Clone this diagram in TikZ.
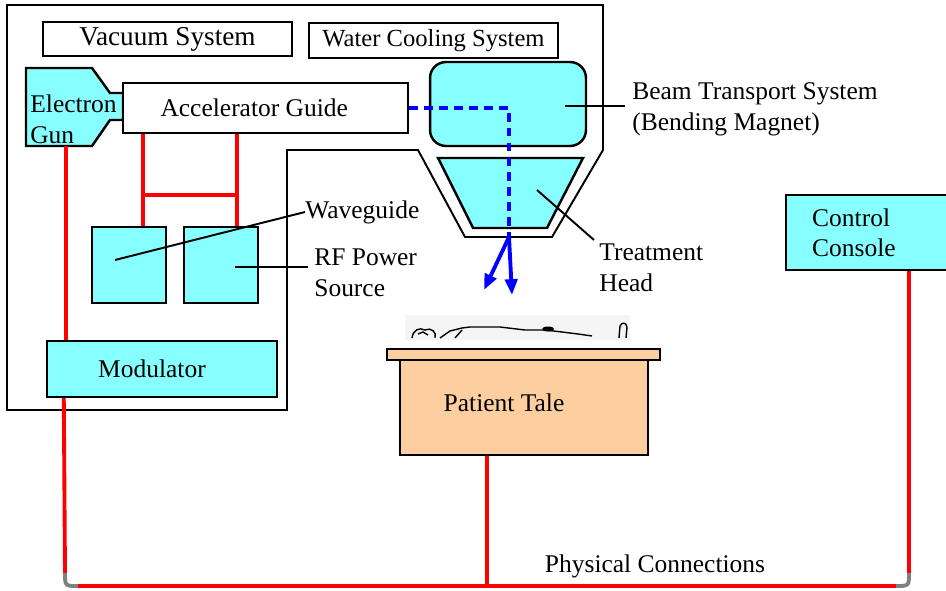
\documentclass[tikz,border=0pt]{standalone}
\usepackage{fontspec}
\setmainfont{Liberation Serif}
\usetikzlibrary{calc,arrows.meta}
\definecolor{aqua}{HTML}{88FFFF}
\definecolor{peach}{HTML}{FDCFA0}

\begin{document}
\begin{tikzpicture}[
    x=0.02cm, y=-0.02cm,
    font=\fontsize{14.5}{17.5}\selectfont,
    box/.style={rectangle, draw, line width=1.4pt, inner sep=0pt},
    unit/.style={box, fill=aqua},
    tag/.style={align=left, anchor=west, inner sep=0pt},
    housing/.style={line width=1.1pt},
    wire/.style={red, line width=2.2pt},
    beam/.style={blue, line width=2.2pt, dash pattern=on 5pt off 3.5pt},
    ray/.style={blue, line width=2.2pt, -{Triangle[length=9pt,width=7pt]}},
    leader/.style={line width=1.1pt}
]
\useasboundingbox (0,0) rectangle (946,591);

% Machine housing
\draw[housing] (7,5) -- (603,5) -- (603,150) -- (552,237) -- (465,237)
    -- (418,150) -- (287,150) -- (287,410) -- (7,410) -- cycle;

% System labels
\node[box, minimum width=4.98cm, minimum height=0.68cm,
    font=\fontsize{15.5}{18}\selectfont] (vac) at (167.5,39) {Vacuum System};
\node[box, minimum width=4.98cm, minimum height=0.70cm,
    font=\fontsize{14}{17}\selectfont] (water) at (433.5,40.5) {Water Cooling System};

% Electron gun and accelerator guide
\draw[unit] (26,68) -- (92,68) -- (110,93) -- (123,93) -- (123,120)
    -- (110,120) -- (92,146) -- (26,146) -- cycle;
\node[tag] (gun) at (30,119) {Electron\\Gun};
\coordinate (gun-s) at (66,146);
\node[box, fill=white, minimum width=5.70cm, minimum height=1.00cm] (accel) at (265.5,108) {Accelerator Guide\hspace*{0.45cm}};

% Beam transport and treatment head
\node[unit, rounded corners=0.32cm, minimum width=3.12cm, minimum height=1.68cm] (bend) at (508,104) {};
\draw[unit] (438,158) -- (583,158) -- (547,228) -- (473,228) -- cycle;
\coordinate (turn) at (509,108);
\coordinate (exit) at (509,237);
\coordinate (ray1) at (484,290);
\coordinate (ray2) at (512,295);
\draw[beam] (accel.east) -- (turn) -- (exit);
\draw[ray] (exit) -- (ray1);
\draw[ray] (exit) -- (ray2);

% Waveguide, RF power source, modulator
\node[unit, minimum width=1.48cm, minimum height=1.52cm] (wg) at (129,265) {};
\node[unit, minimum width=1.48cm, minimum height=1.52cm] (rf) at (221,265) {};
\node[unit, minimum width=4.60cm, minimum height=1.12cm] (mod) at (162,369) {Modulator\hspace*{0.4cm}};

\coordinate (wg-n) at ($(wg.north)+(14,0)$);
\coordinate (rf-n) at ($(rf.north)+(16,0)$);
\draw[wire] (wg-n |- accel.south) -- (wg-n);
\draw[wire] (rf-n |- accel.south) -- (rf-n);
\draw[wire] (wg-n |- 0,195) -- (rf-n |- 0,195);
\draw[wire] ($(rf.south)+(-2,0)$) -- ($(rf.south)+(-2,0)$ |- mod.north);
\draw[wire] (gun-s) -- (gun-s |- mod.north);

% Patient on the table
\fill[gray!8] (405,315) rectangle (630,340);
\draw[line width=0.8pt] (412,338) .. controls (413,330) and (419,327) .. (425,330)
    .. controls (431,327) and (437,332) .. (435,338);
\draw[line width=0.8pt] (418,334) -- (423,332) -- (428,335);
\draw[line width=0.8pt] (440,338) -- (450,331) -- (462,328) -- (470,327)
    -- (500,327) -- (525,330) -- (545,330) -- (562,332) -- (578,334) -- (592,336);
\fill (548,329) ellipse (6 and 2.5);
\draw[line width=0.8pt] (455,338) -- (462,330);
\draw[line width=0.8pt] (619,338) -- (620,326) .. controls (622,322) and (626,322) .. (627,327) -- (626,338);
\node[box, fill=peach, minimum width=5.46cm, minimum height=0.22cm] (slab) at (523.5,354.5) {};
\node[box, fill=peach, minimum width=4.96cm, minimum height=1.90cm] (table) at (524,407.5) {};
\node (tablename) at (504,403) {Patient Tale};

% Control console
\node[box, fill=aqua, anchor=north west, align=left, text width=2.4cm,
    inner xsep=0.52cm, minimum height=1.50cm] (console) at (785,194) {Control\\Console};

% Physical connections
\coordinate (busL) at (65,586);
\coordinate (busR) at (909,586);
\coordinate (mod-s) at ($(mod.south west)+(18,0)$);
\coordinate (con-s) at ($(console.south west)+(124,0)$);
\coordinate (tab-s) at ($(table.south)+(-37,0)$);
\draw[wire] (mod-s) -- ($(busL)+(0,-13)$);
\draw[wire] ($(busL)+(13,0)$) -- ($(busR)+(-13,0)$);
\draw[wire] ($(busR)+(0,-13)$) -- (con-s);
\draw[wire] (tab-s) -- (tab-s |- busL);
\draw[gray, line width=2.2pt] ($(busL)+(0,-13)$) .. controls (busL) .. ($(busL)+(13,0)$);
\draw[gray, line width=2.2pt] ($(busR)+(-13,0)$) .. controls (busR) .. ($(busR)+(0,-13)$);
\node (phys) at (655,566) {Physical Connections};

% Callouts
\node[tag] (bendname) at (632,109) {Beam Transport System\\(Bending Magnet)};
\draw[leader] (565,106) -- (625,106);
\node[tag] (headname) at (599,268) {Treatment\\Head};
\coordinate (head-c) at (537,190);
\draw[leader] (head-c) -- (594,240);
\node[tag] (wgname) at (305,212) {Waveguide};
\coordinate (wg-c) at (115,260);
\draw[leader] (wg-c) -- (wgname.west);
\node[tag] (rfname) at (314,273) {RF Power\\Source};
\coordinate (rf-c) at (235,267);
\draw[leader] (rf-c) -- (308,267);
\end{tikzpicture}
\end{document}
